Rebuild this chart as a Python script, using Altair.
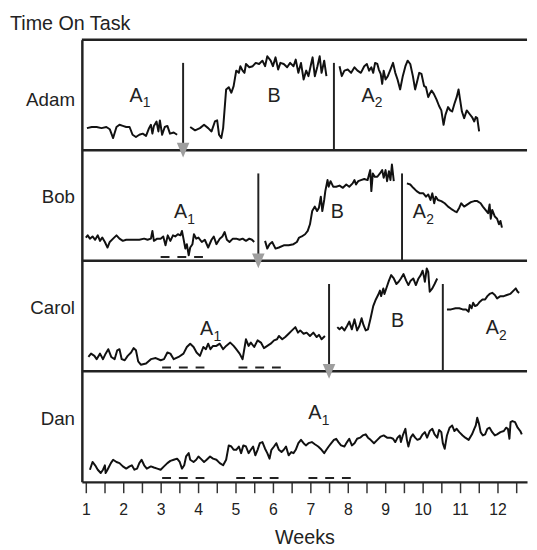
import altair as alt
import pandas as pd

FONT = "Liberation Sans"

students = ["Adam", "Bob", "Carol", "Dan"]

# (week, percent of panel) readings
adam_a1 = [(1.03,20),(1.16,21),(1.29,21),(1.42,20),(1.55,21),(1.64,19),(1.73,11),(1.82,21),(1.90,23),(1.99,22),
           (2.08,21),(2.17,21),(2.25,14),(2.34,12),(2.43,14),(2.52,15),(2.61,13),(2.69,20),(2.74,23),(2.78,15),
           (2.82,22),(2.89,26),(2.94,17),(2.98,27),(3.04,14),(3.11,21),(3.18,22),(3.25,15),(3.35,16),(3.44,14)]
adam_b = [(3.79,21),(3.92,18),(4.05,20),(4.16,23),(4.27,20),(4.36,17),(4.45,26),(4.51,27),(4.56,14),(4.62,11),
          (4.67,20),(4.75,55),(4.82,57),(4.89,52),(4.95,58),(5.02,72),(5.09,70),(5.13,76),(5.19,72),(5.24,70),
          (5.28,78),(5.37,75),(5.46,76),(5.54,79),(5.63,78),(5.72,81),(5.79,76),(5.85,85),(5.94,81),(6.00,76),
          (6.07,84),(6.14,73),(6.20,79),(6.29,78),(6.38,75),(6.46,79),(6.55,76),(6.61,82),(6.68,70),(6.75,79),
          (6.82,64),(6.89,72),(6.95,67),(7.02,78),(7.06,84),(7.12,67),(7.19,76),(7.25,85),(7.30,70),(7.37,81),(7.43,67)]
adam_a2 = [(7.78,76),(7.84,67),(7.91,72),(8.00,73),(8.09,70),(8.18,75),(8.26,72),(8.35,70),(8.44,76),(8.51,78),
           (8.57,72),(8.63,75),(8.68,70),(8.73,79),(8.79,78),(8.83,73),(8.88,69),(8.92,60),(8.96,72),(9.01,64),
           (9.07,67),(9.14,73),(9.21,79),(9.27,70),(9.33,64),(9.40,55),(9.47,67),(9.54,76),(9.60,81),(9.67,78),
           (9.74,67),(9.80,55),(9.86,63),(9.91,70),(9.97,69),(10.04,58),(10.09,57),(10.15,48),(10.19,51),(10.24,54),
           (10.30,51),(10.37,46),(10.44,40),(10.50,36),(10.56,23),(10.61,32),(10.68,39),(10.74,36),(10.79,35),(10.85,42),
           (10.91,48),(10.96,55),(11.00,46),(11.05,35),(11.11,29),(11.18,36),(11.25,33),(11.32,30),(11.38,26),(11.42,30),
           (11.46,29),(11.51,17)]

bob_a1 = [(1.00,21),(1.05,23),(1.11,20),(1.18,22),(1.25,19),(1.32,23),(1.38,18),(1.44,21),(1.51,17),(1.58,12),
          (1.64,17),(1.73,20),(1.82,23),(1.90,20),(1.99,18),(2.08,19),(2.17,19),(2.30,19),(2.43,19),(2.56,20),
          (2.65,19),(2.74,20),(2.78,27),(2.82,18),(2.91,20),(3.00,20),(3.07,22),(3.13,14),(3.19,23),(3.26,18),
          (3.33,23),(3.39,22),(3.46,24),(3.53,23),(3.57,27),(3.61,20),(3.66,11),(3.70,15),(3.75,5),(3.79,12),
          (3.85,15),(3.89,24),(3.95,20),(4.01,21),(4.10,17),(4.18,19),(4.27,12),(4.36,19),(4.42,22),(4.49,15),
          (4.58,20),(4.65,22),(4.71,26),(4.77,19),(4.84,17),(4.93,20),(5.02,20),(5.11,19),(5.19,20),(5.28,18),
          (5.37,20),(5.44,19),(5.50,17)]
bob_b = [(5.79,18),(5.85,11),(5.91,15),(5.98,17),(6.07,11),(6.16,12),(6.29,14),(6.42,14),(6.55,15),(6.64,17),
         (6.70,21),(6.77,22),(6.86,24),(6.93,27),(6.99,33),(7.05,45),(7.12,49),(7.18,45),(7.23,48),(7.28,58),
         (7.32,45),(7.37,55),(7.40,63),(7.46,73),(7.49,67),(7.54,72),(7.61,67),(7.69,67),(7.78,68),(7.87,66),
         (7.96,69),(8.04,67),(8.13,70),(8.18,73),(8.22,69),(8.28,72),(8.35,73),(8.44,74),(8.53,73),(8.60,82),
         (8.63,63),(8.67,79),(8.72,76),(8.79,76),(8.86,79),(8.92,82),(8.96,75),(9.01,82),(9.05,72),(9.10,81),
         (9.14,73),(9.18,87),(9.23,72)]
bob_a2 = [(9.58,70),(9.67,69),(9.75,66),(9.84,63),(9.93,61),(10.02,61),(10.09,58),(10.15,60),(10.21,55),(10.26,61),
          (10.31,52),(10.35,58),(10.41,55),(10.50,54),(10.59,52),(10.68,49),(10.76,47),(10.85,45),(10.91,44),(10.98,48),
          (11.03,52),(11.11,49),(11.20,51),(11.29,53),(11.38,54),(11.46,54),(11.55,52),(11.61,49),(11.68,46),(11.75,43),
          (11.79,51),(11.82,38),(11.86,46),(11.93,40),(11.99,38),(12.04,33),(12.08,36),(12.12,30)]

carol_a1 = [(1.07,13),(1.14,16),(1.23,14),(1.29,11),(1.38,16),(1.46,11),(1.53,16),(1.60,20),(1.68,13),(1.77,11),
            (1.84,19),(1.90,20),(1.96,11),(2.04,10),(2.12,14),(2.21,17),(2.28,21),(2.34,19),(2.40,9),(2.47,6),
            (2.61,7),(2.74,11),(2.87,12),(3.00,10),(3.09,11),(3.18,17),(3.26,16),(3.35,11),(3.48,13),(3.61,16),
            (3.70,22),(3.79,25),(3.88,22),(3.96,17),(4.05,14),(4.14,22),(4.21,20),(4.27,25),(4.33,20),(4.40,23),
            (4.49,23),(4.58,25),(4.67,20),(4.75,23),(4.86,26),(4.95,23),(5.02,20),(5.11,16),(5.19,11),(5.28,29),
            (5.35,23),(5.41,26),(5.50,22),(5.59,28),(5.68,26),(5.76,21),(5.85,23),(5.94,25),(6.03,28),(6.11,29),
            (6.16,32),(6.25,29),(6.33,31),(6.42,34),(6.51,37),(6.60,40),(6.67,35),(6.73,37),(6.82,34),(6.90,35),
            (6.99,32),(7.08,35),(7.17,31),(7.23,33),(7.30,29),(7.39,32)]
carol_b = [(7.72,40),(7.78,38),(7.84,40),(7.91,37),(7.98,41),(8.04,45),(8.11,38),(8.18,47),(8.25,37),(8.31,41),
           (8.37,48),(8.42,42),(8.48,37),(8.54,38),(8.61,48),(8.68,59),(8.75,65),(8.81,69),(8.86,73),(8.89,68),
           (8.95,75),(8.98,70),(9.04,76),(9.10,82),(9.16,87),(9.23,84),(9.30,79),(9.36,81),(9.42,84),(9.49,88),
           (9.56,82),(9.62,78),(9.68,82),(9.75,84),(9.82,78),(9.89,84),(9.95,87),(10.00,91),(10.04,85),(10.06,81),
           (10.11,93),(10.15,90),(10.19,72),(10.26,75),(10.32,79),(10.39,84)]
carol_a2 = [(10.65,56),(10.76,56),(10.88,57),(10.98,57),(11.07,56),(11.16,56),(11.23,54),(11.26,60),(11.31,57),(11.35,62),
            (11.40,59),(11.46,60),(11.53,63),(11.60,65),(11.67,65),(11.73,68),(11.79,70),(11.86,71),(11.93,69),(11.99,66),
            (12.08,68),(12.17,68),(12.25,69),(12.34,70),(12.43,73),(12.49,75),(12.54,72),(12.58,71)]

dan_a1 = [(1.11,11),(1.18,18),(1.25,15),(1.32,11),(1.40,8),(1.46,11),(1.51,15),(1.53,8),(1.58,11),(1.67,17),
          (1.73,20),(1.82,18),(1.90,17),(1.99,14),(2.08,12),(2.17,14),(2.23,15),(2.30,11),(2.37,12),(2.43,17),
          (2.49,20),(2.56,15),(2.63,12),(2.74,14),(2.82,13),(2.91,12),(3.00,11),(3.09,14),(3.18,17),(3.26,19),
          (3.35,20),(3.44,21),(3.51,18),(3.57,12),(3.63,15),(3.68,23),(3.75,26),(3.79,20),(3.88,18),(3.95,20),
          (4.01,23),(4.07,21),(4.16,18),(4.23,20),(4.32,23),(4.40,21),(4.49,20),(4.58,17),(4.67,15),(4.75,20),
          (4.82,33),(4.89,32),(4.95,29),(5.02,29),(5.09,32),(5.15,26),(5.21,33),(5.28,32),(5.35,26),(5.41,29),
          (5.47,32),(5.53,24),(5.59,29),(5.65,35),(5.72,36),(5.79,30),(5.85,26),(5.91,21),(5.96,29),(6.03,32),
          (6.09,35),(6.16,29),(6.23,27),(6.29,29),(6.35,32),(6.42,24),(6.49,27),(6.55,26),(6.61,29),(6.68,35),
          (6.75,38),(6.82,35),(6.88,33),(6.95,35),(7.04,36),(7.12,34),(7.21,32),(7.30,29),(7.37,26),(7.43,29),
          (7.49,32),(7.56,35),(7.63,38),(7.69,39),(7.75,36),(7.82,33),(7.91,32),(7.98,36),(8.04,39),(8.11,33),
          (8.18,35),(8.25,39),(8.33,40),(8.40,42),(8.48,43),(8.54,40),(8.61,38),(8.70,35),(8.79,38),(8.88,41),
          (8.96,42),(9.05,40),(9.14,40),(9.21,39),(9.27,36),(9.33,40),(9.39,42),(9.42,36),(9.47,42),(9.54,48),
          (9.58,38),(9.62,32),(9.68,40),(9.74,43),(9.80,40),(9.86,38),(9.93,39),(10.00,43),(10.06,45),(10.12,40),
          (10.19,46),(10.26,48),(10.32,43),(10.39,40),(10.44,47),(10.50,45),(10.54,35),(10.59,30),(10.65,42),(10.72,49),
          (10.79,51),(10.85,46),(10.91,48),(10.98,45),(11.07,42),(11.14,40),(11.23,38),(11.32,43),(11.38,48),(11.42,51),
          (11.46,58),(11.51,52),(11.55,45),(11.61,42),(11.67,43),(11.73,48),(11.79,49),(11.86,45),(11.93,42),(11.99,43),
          (12.08,45),(12.17,46),(12.23,49),(12.28,48),(12.32,39),(12.35,54),(12.40,55),(12.47,54),(12.54,49),(12.61,46),
          (12.65,43)]

series = {
    "Adam": {"A1": adam_a1, "B": adam_b, "A2": adam_a2},
    "Bob": {"A1": bob_a1, "B": bob_b, "A2": bob_a2},
    "Carol": {"A1": carol_a1, "B": carol_b, "A2": carol_a2},
    "Dan": {"A1": dan_a1},
}

# phase changes (week, arrow?)
phase_changes = [("Adam", 3.60, 1), ("Adam", 7.63, 0),
                 ("Bob", 5.61, 1), ("Bob", 9.45, 0),
                 ("Carol", 7.50, 1), ("Carol", 10.54, 0)]

# phase labels: student, letter, subscript, week, level
phase_labels = [("Adam", "A", "1", 2.34, 44), ("Adam", "B", "", 6.03, 44), ("Adam", "A", "2", 8.54, 44),
                ("Bob", "A", "1", 3.53, 39), ("Bob", "B", "", 7.72, 39), ("Bob", "A", "2", 9.91, 39),
                ("Carol", "A", "1", 4.23, 33), ("Carol", "B", "", 9.33, 40), ("Carol", "A", "2", 11.86, 34),
                ("Dan", "A", "1", 7.12, 57)]

# dashed criterion segments: student, start week, end week
dashes = [("Bob", 3.00, 4.13),
          ("Carol", 3.04, 4.17), ("Carol", 5.08, 6.21),
          ("Dan", 3.04, 4.17), ("Dan", 5.02, 6.15), ("Dan", 6.95, 8.08)]

name_levels = [40, 52, 52, 51]
tick_values = [1 + 0.5 * i for i in range(24)]

# ---------- tables ----------
rows = []
for s, phases in series.items():
    for ph, pts in phases.items():
        for w, v in pts:
            rows.append({"student": s, "idx": students.index(s), "seg": f"{s}-{ph}", "week": w, "value": v})
lines_df = pd.DataFrame(rows)

pc_df = pd.DataFrame([{"student": s, "idx": students.index(s), "week": w, "arrow": a} for s, w, a in phase_changes])
lab_df = pd.DataFrame([{"student": s, "idx": students.index(s), "letter": l, "sub": sb, "week": w, "value": v}
                       for s, l, sb, w, v in phase_labels])
dash_df = pd.DataFrame([{"student": s, "idx": students.index(s), "start": a, "end": b} for s, a, b in dashes])
name_df = pd.DataFrame({"student": students, "idx": list(range(4)), "value": name_levels})
border_df = pd.DataFrame({"pos": [100, 200, 300, 400]})
title_df = pd.DataFrame({"t": ["Time On Task"]})

XS = alt.Scale(domain=[0.895, 12.79], nice=False, zero=False)
YS = alt.Scale(domain=[0, 400], nice=False, zero=False)
OFF = "(3 - datum.idx) * 100"

x_axis = alt.Axis(values=tick_values, labelExpr="datum.value % 1 === 0 ? format(datum.value, 'd') : ''",
                  grid=False, tickSize=11, tickWidth=1.5, tickColor="#333", domainWidth=2.5,
                  domainColor="#222", labelFontSize=16, labelFont=FONT, labelColor="#222",
                  labelPadding=9, labelOverlap=False, labelFlush=False, title="Weeks",
                  titleFont=FONT, titleFontSize=20, titleFontWeight="normal", titleColor="#222",
                  titleY=63, titleBaseline="alphabetic")
y_axis = alt.Axis(grid=False, ticks=False, labels=False, title=None, domainWidth=2.5, domainColor="#222")


def X(field):
    return alt.X(field, scale=XS, axis=x_axis)


def Y(field):
    return alt.Y(field, scale=YS, axis=y_axis)


lines = alt.Chart(lines_df).transform_calculate(ypos=f"datum.value + {OFF}").mark_line(
    color="#111", strokeWidth=2, strokeJoin="round").encode(
    x=X("week:Q"), y=Y("ypos:Q"), detail="seg:N", order="week:Q")

borders = alt.Chart(border_df).mark_rule(color="#222", strokeWidth=2.5).encode(y=Y("pos:Q"))

pc = alt.Chart(pc_df).transform_calculate(ytop=f"{OFF} + 79", ybot=OFF).mark_rule(
    color="#222", strokeWidth=2).encode(x=X("week:Q"), y=Y("ytop:Q"), y2="ybot:Q")

arrows = alt.Chart(pc_df).transform_filter("datum.arrow == 1").transform_calculate(ybot=OFF).mark_point(
    shape="M-0.85,-1L0.85,-1L0,1Z", size=225, filled=True, color="#9e9e9e", opacity=1, strokeWidth=0).encode(
    x=X("week:Q"), y=Y("ybot:Q"))

dash = alt.Chart(dash_df).transform_calculate(ypos=f"{OFF} + 3.5").mark_rule(
    color="#222", strokeWidth=2, strokeDash=[9, 8]).encode(
    x=X("start:Q"), x2="end:Q", y=Y("ypos:Q"))

letters = alt.Chart(lab_df).transform_calculate(ypos=f"datum.value + {OFF}").mark_text(
    font=FONT, fontSize=20, align="center", baseline="alphabetic", color="#222").encode(
    x=X("week:Q"), y=Y("ypos:Q"), text="letter:N")

subs = alt.Chart(lab_df).transform_calculate(ypos=f"datum.value + {OFF}").mark_text(
    font=FONT, fontSize=14, align="left", baseline="alphabetic", color="#222", dx=7, dy=6).encode(
    x=X("week:Q"), y=Y("ypos:Q"), text="sub:N")

names = alt.Chart(name_df).transform_calculate(ypos=f"datum.value + {OFF}").mark_text(
    font=FONT, fontSize=19, align="right", baseline="alphabetic", color="#222", dx=-7).encode(
    x=alt.value(0), y=Y("ypos:Q"), text="student:N")

title = alt.Chart(title_df).mark_text(
    font=FONT, fontSize=20, align="left", baseline="alphabetic", color="#222").encode(
    x=alt.value(-73), y=alt.value(-10), text="t:N")

chart = alt.layer(lines, borders, pc, dash, arrows, letters, subs, names, title).properties(
    width=452, height=449,
    padding={"left": 75, "top": 28, "right": 2, "bottom": 64},
    autosize=alt.AutoSizeParams(type="none"),
).configure_view(stroke=None)

chart.save("out.html", embed_options={"renderer": "svg", "actions": False})
